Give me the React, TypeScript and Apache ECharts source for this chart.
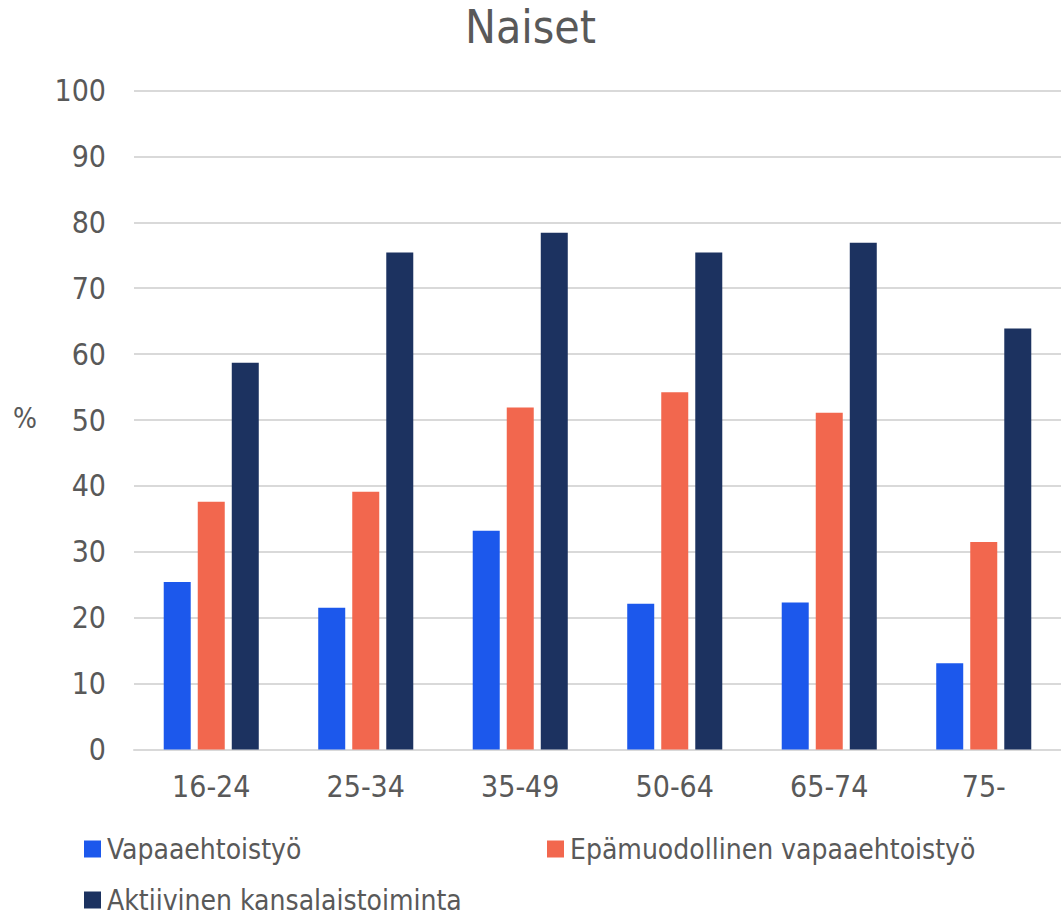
import React, { useEffect, useRef } from "react";
import * as echarts from "echarts";

const categories = ["16-24", "25-34", "35-49", "50-64", "65-74", "75-"];
const seriesNames = ["Vapaaehtoistyö", "Epämuodollinen vapaaehtoistyö", "Aktiivinen kansalaistoiminta"];
const vapaaehtoistyo = [25.4, 21.5, 33.2, 22.1, 22.3, 13.1];
const epamuodollinen = [37.6, 39.1, 51.9, 54.2, 51.1, 31.5];
const aktiivinen = [58.7, 75.4, 78.4, 75.4, 76.9, 63.9];
const colors = ["#1C58EC", "#F2674E", "#1C3260"];

const FONT = "'Liberation Sans Narrow', 'Arial Narrow', 'DejaVu Sans Condensed', sans-serif";
const TEXT = "#595959";

export default function App() {
  const ref = useRef<HTMLDivElement>(null);
  useEffect(() => {
    const chart = echarts.init(ref.current!, undefined, { renderer: "svg" });
    const legendBase = {
      orient: "horizontal",
      itemWidth: 17,
      itemHeight: 17,
      itemGap: 10,
      icon: "rect",
      padding: 0,
      textStyle: { fontFamily: FONT, fontSize: 28, color: TEXT, lineHeight: 30, padding: [0, 0, 0, 1] },
    };
    chart.setOption({
      animation: false,
      backgroundColor: "#fff",
      title: {
        text: "Naiset",
        left: "center",
        top: -1,
        textStyle: { fontFamily: FONT, fontSize: 46, fontWeight: "normal", color: TEXT },
      },
      graphic: [
        {
          type: "text",
          left: 13,
          top: 404,
          style: { text: "%", fontFamily: FONT, fontSize: 28, fill: TEXT },
        },
      ],
      legend: [
        { ...legendBase, left: 84, top: 834, data: [seriesNames[0]] },
        { ...legendBase, left: 547, top: 834, data: [seriesNames[1]] },
        { ...legendBase, left: 84, top: 885, data: [seriesNames[2]] },
      ],
      grid: { left: 134, right: -8, top: 90.5, bottom: 164.5, containLabel: false },
      xAxis: {
        type: "category",
        data: categories,
        axisLine: { show: true, lineStyle: { color: "#D9D9D9", width: 2 } },
        axisTick: { show: false },
        axisLabel: { fontFamily: FONT, fontSize: 30, color: TEXT, margin: 22 },
      },
      yAxis: {
        type: "value",
        min: 0,
        max: 100,
        interval: 10,
        axisLine: { show: false },
        axisTick: { show: false },
        splitLine: { lineStyle: { color: "#D9D9D9", width: 2 } },
        axisLabel: { fontFamily: FONT, fontSize: 30, color: TEXT, margin: 28 },
      },
      series: [
        { name: seriesNames[0], type: "bar", data: vapaaehtoistyo, itemStyle: { color: colors[0] }, barWidth: 27, barGap: "26%" },
        { name: seriesNames[1], type: "bar", data: epamuodollinen, itemStyle: { color: colors[1] }, barWidth: 27, barGap: "26%" },
        { name: seriesNames[2], type: "bar", data: aktiivinen, itemStyle: { color: colors[2] }, barWidth: 27, barGap: "26%" },
      ],
    });
    return () => chart.dispose();
  }, []);
  return <div ref={ref} style={{ width: 1061, height: 914, position: "absolute", left: 0, top: 0 }} />;
}
